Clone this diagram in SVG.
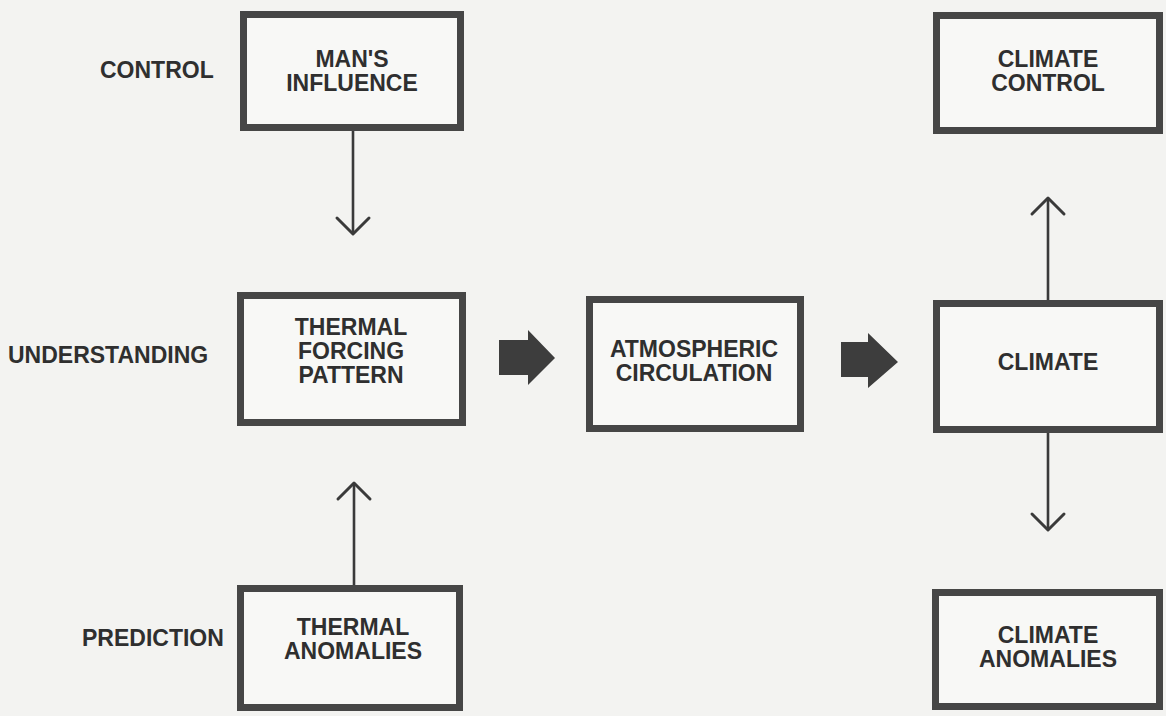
<svg xmlns="http://www.w3.org/2000/svg" width="1166" height="716" viewBox="0 0 1166 716">
  <defs>
    <style>
      .bg { fill: #f3f3f1; }
      .box { fill: #f8f8f6; stroke: #464646; stroke-width: 7; }
      .t { font-family: "Liberation Sans", Arial, sans-serif; font-weight: bold; font-size: 23px; fill: #2f2f2f; text-anchor: middle; }
      .lbl { font-family: "Liberation Sans", Arial, sans-serif; font-weight: bold; font-size: 23px; fill: #2f2f2f; text-anchor: start; }
      .line { stroke: #3a3a3a; stroke-width: 2.6; fill: none; }
      .head { stroke: #3a3a3a; stroke-width: 3; fill: none; stroke-linecap: round; stroke-linejoin: round; }
      .block { fill: #3d3d3d; }
    </style>
  </defs>
  <rect class="bg" x="0" y="0" width="1166" height="716"/>

  <g id="labels">
    <text class="lbl" x="100" y="78">CONTROL</text>
    <text class="lbl" x="8" y="363">UNDERSTANDING</text>
    <text class="lbl" x="82" y="646">PREDICTION</text>
  </g>

  <g id="connectors">
    <line class="line" x1="353" y1="131" x2="353" y2="234"/>
    <polyline class="head" points="337,218 353,234 369,218"/>
    <line class="line" x1="354" y1="585" x2="354" y2="483"/>
    <polyline class="head" points="338,499 354,483 370,499"/>
    <line class="line" x1="1048" y1="300" x2="1048" y2="198"/>
    <polyline class="head" points="1032,214 1048,198 1064,214"/>
    <line class="line" x1="1048" y1="433" x2="1048" y2="530"/>
    <polyline class="head" points="1032,514 1048,530 1064,514"/>
    <polygon class="block" points="499,340 528,340 528,330 555,358 528,385 528,375 499,375"/>
    <polygon class="block" points="841,342 868,342 868,333 898,362 868,388 868,377 841,377"/>
  </g>

  <g id="mans-influence">
    <rect class="box" x="243.5" y="14.5" width="217" height="113"/>
    <text class="t" x="352" y="67">MAN'S</text>
    <text class="t" x="352" y="91">INFLUENCE</text>
  </g>

  <g id="thermal-forcing">
    <rect class="box" x="240.5" y="295.5" width="222" height="127"/>
    <text class="t" x="351" y="335">THERMAL</text>
    <text class="t" x="351" y="359">FORCING</text>
    <text class="t" x="351" y="383">PATTERN</text>
  </g>

  <g id="thermal-anomalies">
    <rect class="box" x="240.5" y="588.5" width="219" height="119"/>
    <text class="t" x="353" y="635">THERMAL</text>
    <text class="t" x="353" y="659">ANOMALIES</text>
  </g>

  <g id="atmospheric-circulation">
    <rect class="box" x="589.5" y="299.5" width="211" height="129"/>
    <text class="t" x="694" y="357">ATMOSPHERIC</text>
    <text class="t" x="694" y="381">CIRCULATION</text>
  </g>

  <g id="climate">
    <rect class="box" x="936.5" y="303.5" width="223" height="126"/>
    <text class="t" x="1048" y="370">CLIMATE</text>
  </g>

  <g id="climate-control">
    <rect class="box" x="936.5" y="15.5" width="223" height="115"/>
    <text class="t" x="1048" y="67">CLIMATE</text>
    <text class="t" x="1048" y="91">CONTROL</text>
  </g>

  <g id="climate-anomalies">
    <rect class="box" x="935.5" y="592.5" width="224" height="114"/>
    <text class="t" x="1048" y="643">CLIMATE</text>
    <text class="t" x="1048" y="667">ANOMALIES</text>
  </g>
</svg>
